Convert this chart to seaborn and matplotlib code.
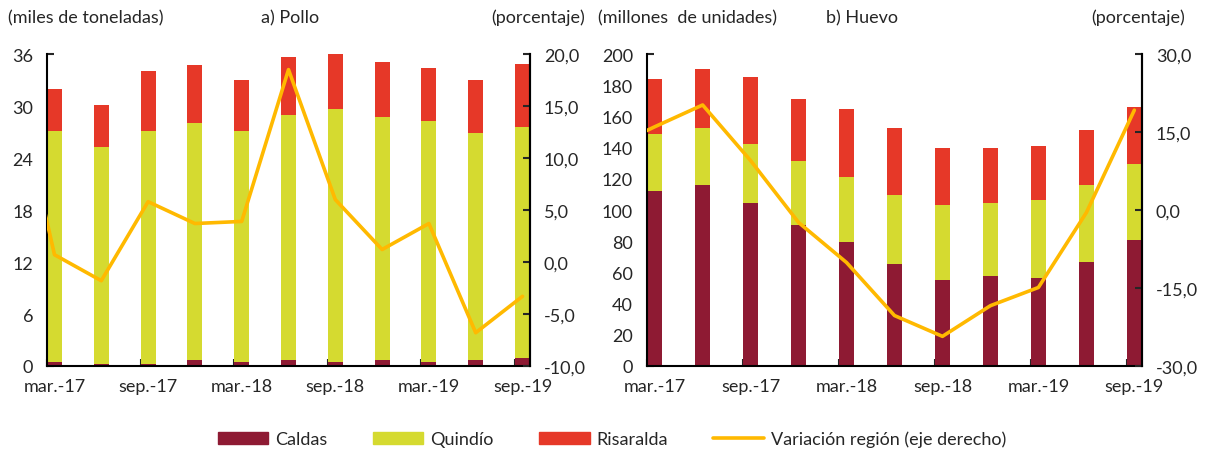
import numpy as np
import pandas as pd
import seaborn as sns
import matplotlib.pyplot as plt
from matplotlib.patches import Patch
from matplotlib.lines import Line2D
from matplotlib.ticker import FuncFormatter

# datos
trimestres = ['mar.-17', 'jun.-17', 'sep.-17', 'dic.-17', 'mar.-18', 'jun.-18',
              'sep.-18', 'dic.-18', 'mar.-19', 'jun.-19', 'sep.-19']

pollo_caldas = [0.5, 0.25, 0.25, 0.7, 0.5, 0.7, 0.5, 0.7, 0.5, 0.7, 0.95]
pollo_quindio = [26.6, 25.05, 26.85, 27.3, 26.6, 28.3, 29.2, 28.0, 27.8, 26.2, 26.65]
pollo_risaralda = [4.9, 4.8, 6.9, 6.7, 5.9, 6.6, 6.3, 6.4, 6.1, 6.1, 7.3]
# primer valor = dic.-16 (queda recortado por el eje)
pollo_var = [20.5, 0.7, -1.8, 5.8, 3.7, 3.9, 18.5, 6.0, 1.2, 3.7, -6.8, -3.3]

huevo_caldas = [112.1, 116.0, 104.7, 90.4, 79.4, 65.5, 55.3, 57.9, 56.6, 66.8, 80.6]
huevo_quindio = [36.4, 36.3, 37.6, 40.7, 41.7, 44.1, 48.1, 46.8, 49.8, 49.2, 49.2]
huevo_risaralda = [35.5, 37.9, 42.8, 40.2, 43.8, 42.7, 36.6, 35.3, 34.7, 35.3, 36.4]
huevo_var = [11.6, 16.0, 20.2, 9.5, -2.4, -10.1, -20.3, -24.3, -18.4, -14.9, -0.5, 19.2]

c_caldas = '#8E1A33'
c_quindio = '#D5DA30'
c_risaralda = '#E63828'
c_linea = '#FFB900'

sns.set_theme(style='ticks')
plt.rcParams['font.family'] = ['Lato', 'DejaVu Sans']
plt.rcParams['font.size'] = 13

fig = plt.figure(figsize=(12.12, 4.52), dpi=100)
ax_p = fig.add_axes([47 / 1212, 85 / 452, 483 / 1212, 312 / 452])
ax_h = fig.add_axes([647 / 1212, 85 / 452, 495 / 1212, 312 / 452])

bw = 0.32
half = bw / 2


def coma(v, pos):
    return f'{v:.1f}'.replace('.', ',')


def panel(ax, caldas, quindio, risaralda, var, ylim, yticks, y2lim, y2ticks):
    df = pd.DataFrame({'trim': trimestres, 'caldas': caldas,
                       'quindio': quindio, 'risaralda': risaralda})
    df['q_top'] = df['caldas'] + df['quindio']
    df['total'] = df['q_top'] + df['risaralda']
    for col, c in [('total', c_risaralda), ('q_top', c_quindio), ('caldas', c_caldas)]:
        sns.barplot(data=df, x='trim', y=col, color=c, width=bw, ax=ax,
                    saturation=1, linewidth=0)
    ax.set_ylim(*ylim)
    ax.set_yticks(yticks)
    ax.set_xlim(-half, len(trimestres) - 1 + half)
    ax.set_xlabel('')
    ax.set_ylabel('')
    pos = np.arange(len(trimestres))
    ax.set_xticks(pos[::2])
    ax.set_xticklabels(trimestres[::2])
    ax.set_xticks(pos[::2] - half, minor=True)
    ax.tick_params(axis='x', which='major', length=0, pad=9, labelsize=13)
    ax.tick_params(axis='x', which='minor', length=5, direction='in', width=1.5)
    ax.tick_params(axis='y', length=5, direction='in', width=1.5, labelsize=13, pad=10)
    sns.despine(ax=ax, top=True, right=False)
    for s in ['left', 'bottom', 'right']:
        ax.spines[s].set_linewidth(1.5)
        ax.spines[s].set_color('black')

    ax2 = ax.twinx()
    xl = np.arange(-1, len(trimestres))
    sns.lineplot(x=xl, y=var, color=c_linea, linewidth=2.6, ax=ax2, sort=False)
    ax2.set_xlim(-half, len(trimestres) - 1 + half)
    ax2.set_ylim(*y2lim)
    ax2.set_yticks(y2ticks)
    ax2.yaxis.set_major_formatter(FuncFormatter(coma))
    ax2.tick_params(axis='y', length=5, direction='in', width=1.5, labelsize=13, pad=10)
    for s in ['top', 'left', 'bottom']:
        ax2.spines[s].set_visible(False)
    ax2.spines['right'].set_linewidth(1.5)
    ax2.spines['right'].set_color('black')
    return ax2


panel(ax_p, pollo_caldas, pollo_quindio, pollo_risaralda, pollo_var,
      (0, 36), np.arange(0, 37, 6), (-10, 20), np.arange(-10, 21, 5))
panel(ax_h, huevo_caldas, huevo_quindio, huevo_risaralda, huevo_var,
      (0, 200), np.arange(0, 201, 20), (-30, 30), np.arange(-30, 31, 15))

ytop = 1 - 18 / 452
fig.text(8 / 1212, ytop, '(miles de toneladas)', ha='left', va='center', fontsize=13)
fig.text(290 / 1212, ytop, 'a) Pollo', ha='center', va='center', fontsize=13)
fig.text(585 / 1212, ytop, '(porcentaje)', ha='right', va='center', fontsize=13)
fig.text(598 / 1212, ytop, '(millones  de unidades)', ha='left', va='center', fontsize=13)
fig.text(862 / 1212, ytop, 'b) Huevo', ha='center', va='center', fontsize=13)
fig.text(1185 / 1212, ytop, '(porcentaje)', ha='right', va='center', fontsize=13)

handles = [Patch(color=c_caldas, label='Caldas'),
           Patch(color=c_quindio, label='Quindío'),
           Patch(color=c_risaralda, label='Risaralda'),
           Line2D([], [], color=c_linea, linewidth=2.6, label='Variación región (eje derecho)')]
fig.legend(handles=handles, loc='center', bbox_to_anchor=(0.505, 1 - 440 / 452), ncol=4,
           frameon=False, fontsize=13, handlelength=2.8, handleheight=0.7,
           handletextpad=0.4, columnspacing=2.5)

plt.savefig('out.png', dpi=100)
